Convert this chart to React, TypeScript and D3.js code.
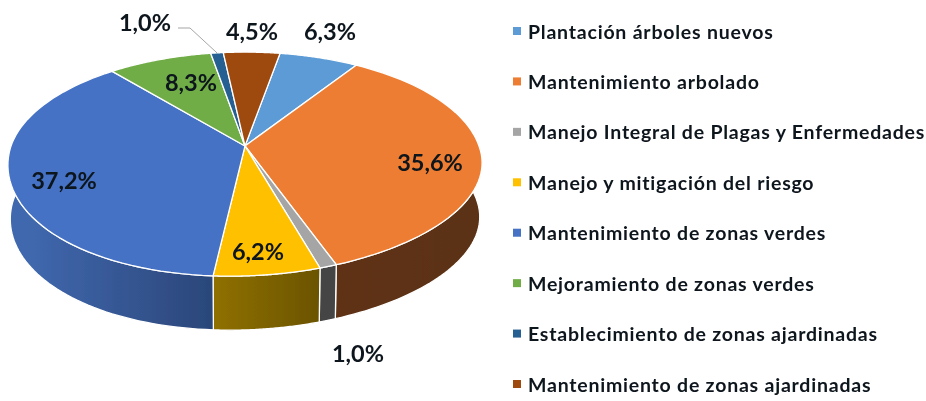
import React from "react";
import * as d3 from "d3";

const categories = [
  "Plantación árboles nuevos",
  "Mantenimiento arbolado",
  "Manejo Integral de Plagas y Enfermedades",
  "Manejo y mitigación del riesgo",
  "Mantenimiento de zonas verdes",
  "Mejoramiento de zonas verdes",
  "Establecimiento de zonas ajardinadas",
  "Mantenimiento de zonas ajardinadas",
];
const values = [6.3, 35.6, 1.0, 6.2, 37.2, 8.3, 1.0, 4.5];
const topColors = ["#5b9bd5", "#ed7d31", "#a5a5a5", "#ffc000", "#4472c4", "#70ad47", "#255e91", "#9e480e"];
const wallLeftColors = ["#3d6a92", "#5e3213", "#444444", "#8f7000", "#4068ae", "#4b7530", "#1a4162", "#6a3009"];
const wallRightColors = ["#3d6a92", "#5c3113", "#444444", "#6b5400", "#2b4679", "#4b7530", "#1a4162", "#6a3009"];
const labelAnchors: [number, number][] = [
  [330, 31], [430, 162], [358, 353], [258, 251], [64, 180], [191, 82], [145, 22], [252, 31],
];

const W = 926, H = 401;
const CX = 245, CY = 146, R = 234, FY = 109, K = 0.161, DEPTH = 54, BOTTOM_SCALE = 0.99, SHEAR = -0.03;
const ROTATION = (10 * Math.PI) / 180;
const VISIBLE: [number, number] = [(75 * Math.PI) / 180, (285 * Math.PI) / 180];

// perspective projection of a point on the unit disc
function project(theta: number, r = 1, lower = false): [number, number] {
  const u = r * Math.sin(theta), v = -r * Math.cos(theta);
  const w = 1 - K * v;
  const x = (R * u) / w, y = (FY * v) / w + SHEAR * ((R * u) / w) * Math.max(0, v);
  return lower ? [CX + x * BOTTOM_SCALE, CY + y + DEPTH] : [CX + x, CY + y];
}
const sample = (a: number, b: number, lower = false) =>
  d3.range(0, 61).map((i) => project(a + ((b - a) * i) / 60, 1, lower));

const line = d3.line<[number, number]>();
const pie = d3.pie<number>().sort(null).startAngle(ROTATION).endAngle(ROTATION + Math.PI * 2);
const arcs = pie(values);
const legendY = d3.scalePoint<string>().domain(categories).range([31, 384]);
const fmt = (v: number) => d3.format(".1f")(v).replace(".", ",") + "%";
const FONT = "Lato, sans-serif";

export default function App() {
  return (
    <svg width={W} height={H} viewBox={`0 0 ${W} ${H}`} style={{ position: "absolute", left: 0, top: 0, background: "#fff" }}>
      <defs>
        <filter id="soft" x="-5%" y="-5%" width="110%" height="110%">
          <feGaussianBlur stdDeviation="0.45" />
        </filter>
        {arcs.map((d, i) => {
          const a = Math.max(d.startAngle, VISIBLE[0]), b = Math.min(d.endAngle, VISIBLE[1]);
          const x1 = project(b)[0], x2 = project(a)[0];
          return (
            <linearGradient key={i} id={`wall${i}`} gradientUnits="userSpaceOnUse" x1={x1} x2={x2} y1={0} y2={0}>
              <stop offset="0" stopColor={wallLeftColors[i]} />
              <stop offset="1" stopColor={wallRightColors[i]} />
            </linearGradient>
          );
        })}
      </defs>
      <g filter="url(#soft)">
        {arcs.map((d, i) => {
          const a = Math.max(d.startAngle, VISIBLE[0]), b = Math.min(d.endAngle, VISIBLE[1]);
          if (b <= a) return null;
          const pts = [...sample(a, b), ...sample(a, b, true).reverse()];
          return <path key={i} d={line(pts) + "Z"} fill={`url(#wall${i})`} stroke="#fff" strokeWidth={1.3} strokeLinejoin="round" />;
        })}
        {arcs.map((d, i) => {
          const pts: [number, number][] = [[CX, CY], ...sample(d.startAngle, d.endAngle)];
          return <path key={i} d={line(pts) + "Z"} fill={topColors[i]} stroke="#fff" strokeWidth={1.3} strokeLinejoin="round" />;
        })}
        <path d={line([[178, 28], [190, 28], project(arcs[6].startAngle + (arcs[6].endAngle - arcs[6].startAngle) / 2)])!} fill="none" stroke="#a5a5a5" strokeWidth={1} />
        {values.map((v, i) => (
          <text key={i} x={labelAnchors[i][0]} y={labelAnchors[i][1]} textAnchor="middle" dominantBaseline="central"
            fontFamily={FONT} fontWeight={700} fontSize={23.5} fill="#0d141c">{fmt(v)}</text>
        ))}
        {categories.map((c, i) => (
          <g key={c}>
            <rect x={513} y={legendY(c)! - 4} width={8} height={8} fill={topColors[i]} />
            <text x={528} y={legendY(c)!} dominantBaseline="central" fontFamily={FONT} fontWeight={700} fontSize={19.5} letterSpacing={0.78} fill="#0d141c">{c}</text>
          </g>
        ))}
      </g>
    </svg>
  );
}
